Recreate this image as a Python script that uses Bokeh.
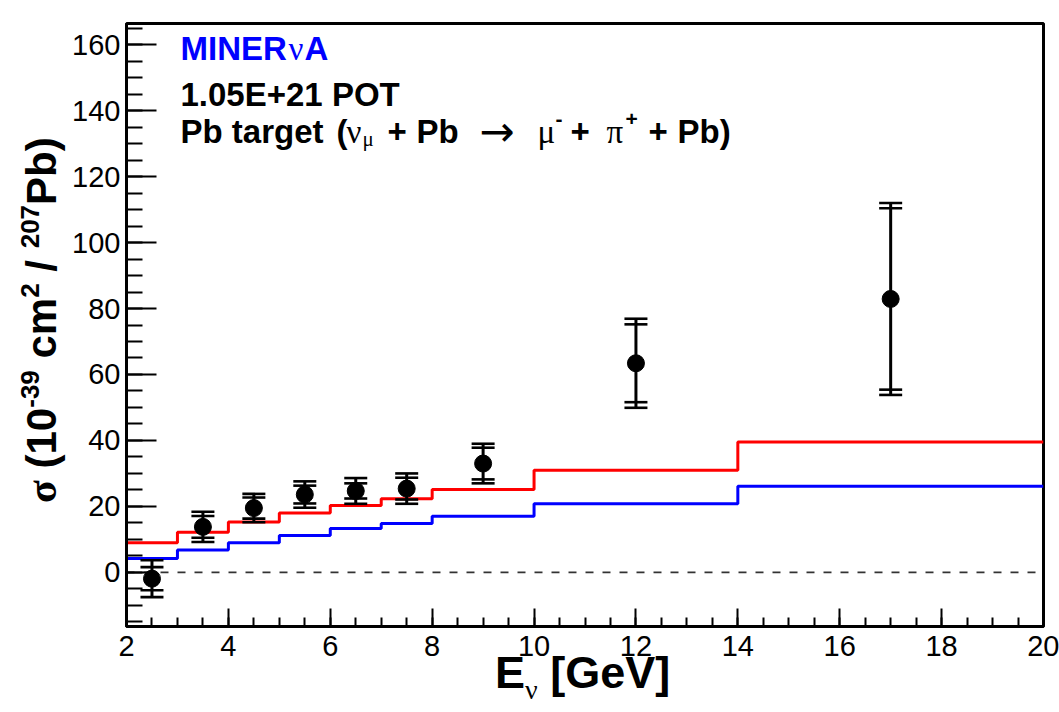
from bokeh.plotting import figure
from bokeh.models import Range1d, SingleIntervalTicker, Label, Div
from bokeh.layouts import column
from bokeh.embed import file_html
from bokeh.resources import INLINE

# ---------------- data ----------------
energy = [2.5, 3.5, 4.5, 5.5, 6.5, 7.5, 9.0, 12.0, 17.0]
xsec = [-1.9, 13.8, 19.5, 23.6, 24.7, 25.4, 33.0, 63.4, 82.9]
stat_err = [3.5, 3.3, 3.2, 2.7, 2.3, 3.3, 4.8, 11.8, 27.5]
total_err = [5.6, 4.6, 4.3, 4.0, 3.9, 4.6, 6.0, 13.5, 29.1]

bin_edges = [2, 3, 4, 5, 6, 7, 8, 10, 14, 20]
model_red = [9.0, 12.2, 15.3, 18.0, 20.3, 22.3, 25.1, 31.0, 39.5]
model_blue = [4.2, 6.8, 9.0, 11.2, 13.3, 14.8, 17.0, 20.8, 26.1]

x_limits = (2, 20)
y_limits = (-16.4, 166.4)
x_tick_step = 2
y_tick_step = 20

# ---------------- geometry ----------------
W, H = 1059, 712
FL, FR, FT, FB = 126, 1043, 23, 626   # frame edges in pixels

p = figure(width=W, height=H, output_backend="svg", toolbar_location=None,
           x_range=Range1d(*x_limits), y_range=Range1d(*y_limits),
           min_border_left=FL, min_border_right=W - FR,
           min_border_top=FT, min_border_bottom=H - FB)
p.grid.visible = False
p.background_fill_color = "white"
p.border_fill_color = "white"
p.outline_line_color = "black"
p.outline_line_width = 3

p.xaxis.ticker = SingleIntervalTicker(interval=x_tick_step, num_minor_ticks=4)
p.yaxis.ticker = SingleIntervalTicker(interval=y_tick_step, num_minor_ticks=4)
for ax in (p.xaxis, p.yaxis):
    ax.axis_line_width = 3
    ax.axis_line_color = "black"
    ax.major_tick_out = 0
    ax.minor_tick_out = 0
    ax.major_tick_line_width = 2
    ax.minor_tick_line_width = 2
    ax.major_tick_line_color = "black"
    ax.minor_tick_line_color = "black"
    ax.major_label_text_font = "Liberation Sans"
    ax.major_label_text_font_size = "29px"
    ax.major_label_text_color = "black"
p.xaxis.major_tick_in = 18
p.xaxis.minor_tick_in = 9
p.yaxis.major_tick_in = 30
p.yaxis.minor_tick_in = 16
p.xaxis.major_label_standoff = 9
p.yaxis.major_label_standoff = 6

# ---------------- model histograms ----------------
p.step(x=bin_edges, y=model_red + [model_red[-1]], mode="after",
       line_color="#ff0000", line_width=3)
p.step(x=bin_edges, y=model_blue + [model_blue[-1]], mode="after",
       line_color="#0000ff", line_width=3)

# zero line
p.line(x=list(x_limits), y=[0, 0], line_color="#333333", line_width=1.6,
       line_dash="8 9")

# ---------------- data points with stat and total errors ----------------
lo = [y - t for y, t in zip(xsec, total_err)]
hi = [y + t for y, t in zip(xsec, total_err)]
p.segment(x0=energy, y0=lo, x1=energy, y1=hi, line_color="black", line_width=3)
cap_x = energy * 4
cap_y = ([y + s for y, s in zip(xsec, stat_err)] +
         [y - s for y, s in zip(xsec, stat_err)] + hi + lo)
p.scatter(x=cap_x, y=cap_y, marker="dash", size=23, line_color="black",
          line_width=2.6)
p.scatter(x=energy, y=xsec, marker="circle", size=17, fill_color="black",
          line_color="black")

# ---------------- in-frame text ----------------
FONTS = {"b": ("Liberation Sans", "bold"),
         "s": ("Liberation Serif", "normal"),
         "a": ("DejaVu Sans", "normal")}


def px_x(px):
    return x_limits[0] + (px - FL) * (x_limits[1] - x_limits[0]) / (FR - FL)


def px_y(py):
    return y_limits[0] + (FB - py) * (y_limits[1] - y_limits[0]) / (FB - FT)


def put(txt, kind, size, x_px, base_px, color="black"):
    font, style = FONTS[kind]
    p.add_layout(Label(x=px_x(x_px), y=px_y(base_px), x_units="data",
                       y_units="data", text=txt, text_font=font,
                       text_font_style=style, text_font_size=f"{size}px",
                       text_color=color, text_align="left",
                       text_baseline="alphabetic"))


F = 33
put("MINER", "b", F, 180, 48, "#0000ff")
put("ν", "s", F, 288, 48, "#0000ff")
put("A", "b", F, 304, 48, "#0000ff")
put("1.05E+21 POT", "b", F, 180, 94)
B3 = 131
for txt, kind, size, x, rise in [
        ("Pb target", "b", F, 180, 0), ("(", "b", F, 336, 0),
        ("ν", "s", F, 346, 0), ("μ", "s", 21, 362, -7),
        ("+", "b", F, 387, 0), ("Pb", "b", F, 416, 0),
        ("→", "a", 42, 479, 0), ("μ", "s", F, 537, 0),
        ("-", "b", 21, 555, 13), ("+", "b", F, 570, 0),
        ("π", "s", F, 606, 0), ("+", "b", 21, 625, 13),
        ("+", "b", F, 648, 0), ("Pb)", "b", F, 677, 0)]:
    put(txt, kind, size, x, B3 - rise)

# ---------------- axis titles (HTML, drawn over the margins) ----------------
SUP = 'style="font-size:26px; position:relative; top:-17px;"'
y_title_html = (
    '<div style="display:inline-block; white-space:nowrap; '
    'transform-origin:0 0; transform:translate(21px,503px) rotate(-90deg); '
    "font-family:'Liberation Sans'; font-weight:bold; font-size:42px; "
    'line-height:42px; color:black;">'
    "<span style=\"font-family:'Liberation Serif';\">σ</span> "
    f"(10<span {SUP}>-39</span> cm<span {SUP}>2</span> / "
    f"<span {SUP}>207</span>Pb)</div>")
y_title = Div(text=y_title_html, width=125, height=H, margin=(-H, 0, 0, 0))

x_title_html = (
    '<div style="padding-left:495px; padding-top:8px; white-space:nowrap; '
    "font-family:'Liberation Sans'; font-weight:bold; font-size:45px; "
    'line-height:45px; color:black;">E<span style="position:relative; '
    "top:11px; font-family:'Liberation Serif'; font-weight:normal; "
    'font-size:28px;">ν</span> [GeV]</div>')
x_title = Div(text=x_title_html, width=W, height=70, margin=(-70, 0, 0, 0))

layout = column(p, y_title, x_title, spacing=0)
open("out.html", "w").write(file_html(layout, INLINE))
